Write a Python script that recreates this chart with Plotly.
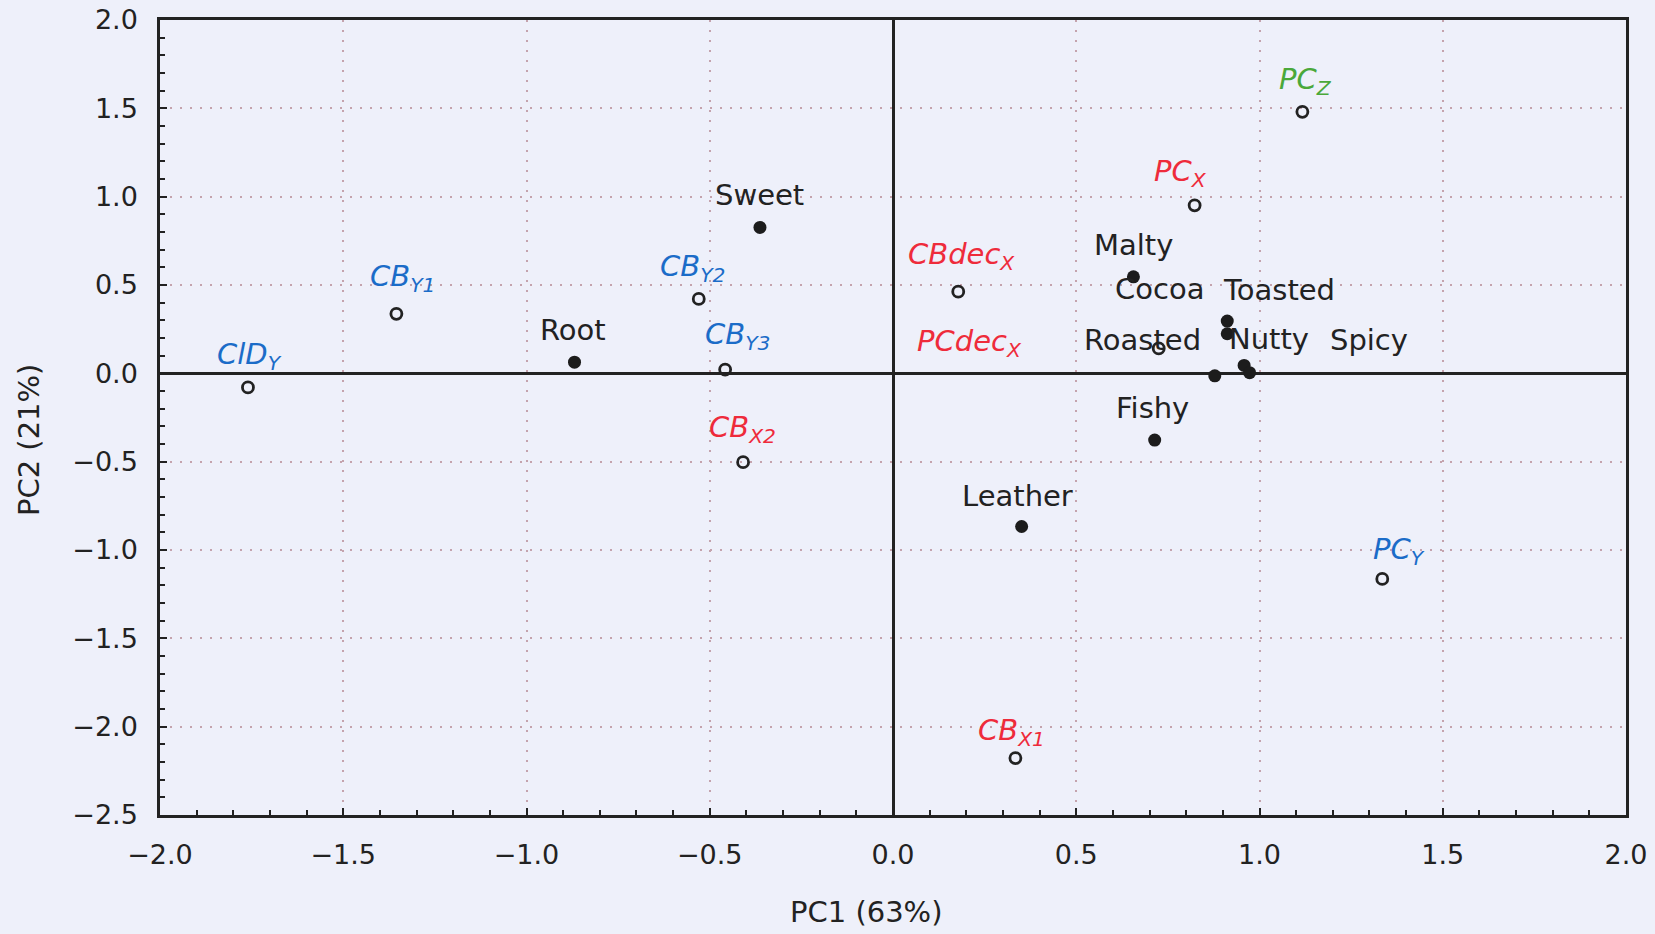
import plotly.graph_objects as go

# ---- data ----
sample_names = ["CID_Y", "CB_Y1", "CB_Y2", "CB_Y3", "CB_X2", "CB_X1",
                "CBdec_X", "PCdec_X", "PC_X", "PC_Z", "PC_Y"]
sample_labels = ["ClD<sub>Y</sub>", "CB<sub>Y1</sub>", "CB<sub>Y2</sub>", "CB<sub>Y3</sub>",
                 "CB<sub>X2</sub>", "CB<sub>X1</sub>", "CBdec<sub>X</sub>", "PCdec<sub>X</sub>",
                 "PC<sub>X</sub>", "PC<sub>Z</sub>", "PC<sub>Y</sub>"]
sample_group = ["Y", "Y", "Y", "Y", "X", "X", "X", "X", "X", "Z", "Y"]
sample_pc1 = [-1.76, -1.355, -0.53, -0.458, -0.409, 0.334, 0.178, 0.725, 0.823, 1.117, 1.335]
sample_pc2 = [-0.08, 0.337, 0.421, 0.021, -0.503, -2.178, 0.462, 0.141, 0.951, 1.48, -1.164]

attr_names = ["Sweet", "Root", "Malty", "Cocoa", "Toasted", "Roasted",
              "Nutty", "Spicy", "Fishy", "Leather"]
attr_pc1 = [-0.363, -0.869, 0.656, 0.912, 0.912, 0.878, 0.958, 0.973, 0.714, 0.351]
attr_pc2 = [0.826, 0.063, 0.546, 0.296, 0.224, -0.014, 0.045, 0.004, -0.378, -0.867]

x_title = "PC1 (63%)"
y_title = "PC2 (21%)"

# ---- styling (label offsets in px) ----
group_colors = {"Y": "#1b6cc8", "X": "#ee2b3b", "Z": "#4aa83a"}
sample_offsets = {
    "CID_Y": (2, 31), "CB_Y1": (6, 36), "CB_Y2": (-6, 31), "CB_Y3": (12, 34),
    "CB_X2": (-1, 33), "CB_X1": (-4, 26), "CBdec_X": (3, 36), "PCdec_X": (-189, 5),
    "PC_X": (-14, 32), "PC_Z": (3, 31), "PC_Y": (17, 28),
}
attr_offsets = {
    "Sweet": (0, 32), "Root": (-2, 32), "Malty": (0, 32), "Cocoa": (-68, 32),
    "Toasted": (52, 44), "Roasted": (-72, 36), "Nutty": (25, 26), "Spicy": (119, 33),
    "Fishy": (-2, 32), "Leather": (-4, 31),
}
FONT = "DejaVu Sans"
FS_TICK = 27
FS = 29
BG = "#eef0fa"
INK = "#222222"

fig = go.Figure()
fig.add_trace(go.Scatter(
    x=attr_pc1, y=attr_pc2, mode="markers", name="attributes",
    marker=dict(symbol="circle", size=13, color="#1c1c1c"),
    hovertext=attr_names, showlegend=False))
fig.add_trace(go.Scatter(
    x=sample_pc1, y=sample_pc2, mode="markers", name="samples",
    marker=dict(symbol="circle-open", size=11, color=INK, line=dict(width=2.8, color=INK)),
    hovertext=sample_names, showlegend=False))

annotations = []
for n, x, y in zip(attr_names, attr_pc1, attr_pc2):
    dx, dy = attr_offsets[n]
    annotations.append(dict(x=x, y=y, xref="x", yref="y", text=n, showarrow=False,
                            xshift=dx, yshift=dy,
                            font=dict(family=FONT, size=FS, color=INK)))
for n, lab, g, x, y in zip(sample_names, sample_labels, sample_group, sample_pc1, sample_pc2):
    dx, dy = sample_offsets[n]
    annotations.append(dict(x=x, y=y, xref="x", yref="y", text="<i>" + lab + "</i>",
                            showarrow=False, xshift=dx, yshift=dy,
                            font=dict(family=FONT, size=FS, color=group_colors[g])))
annotations.append(dict(x=0.4816, y=-0.122, xref="paper", yref="paper", text=x_title,
                        showarrow=False, xanchor="center", yanchor="middle",
                        font=dict(family=FONT, size=FS, color=INK)))
annotations.append(dict(x=-0.0895, y=0.4726, xref="paper", yref="paper", text=y_title,
                        showarrow=False, xanchor="center", yanchor="middle", textangle=-90,
                        font=dict(family=FONT, size=FS, color=INK)))

axis_common = dict(
    showgrid=True, gridcolor="#c4a3ad", gridwidth=2, griddash="2px,8px",
    zeroline=True, zerolinecolor=INK, zerolinewidth=2.5,
    showline=True, linecolor=INK, linewidth=2.5, mirror=True,
    ticks="inside", ticklen=7, tickwidth=2, tickcolor=INK,
    minor=dict(ticks="inside", dtick=0.1, ticklen=5, tickwidth=2, tickcolor=INK, showgrid=False),
    tickfont=dict(family=FONT, size=FS_TICK, color=INK),
    dtick=0.5, tickformat=".1f", automargin=False,
)
fig.update_xaxes(range=[-2, 2], tick0=-2, ticklabelstandoff=14, **axis_common)
fig.update_yaxes(range=[-2.5, 2], tick0=-2.5, ticklabelstandoff=14, **axis_common)

fig.update_layout(
    width=1655, height=934,
    margin=dict(l=160, r=29, t=20, b=119),
    paper_bgcolor=BG, plot_bgcolor=BG,
    annotations=annotations,
    showlegend=False,
)
fig.write_html("out.html")
